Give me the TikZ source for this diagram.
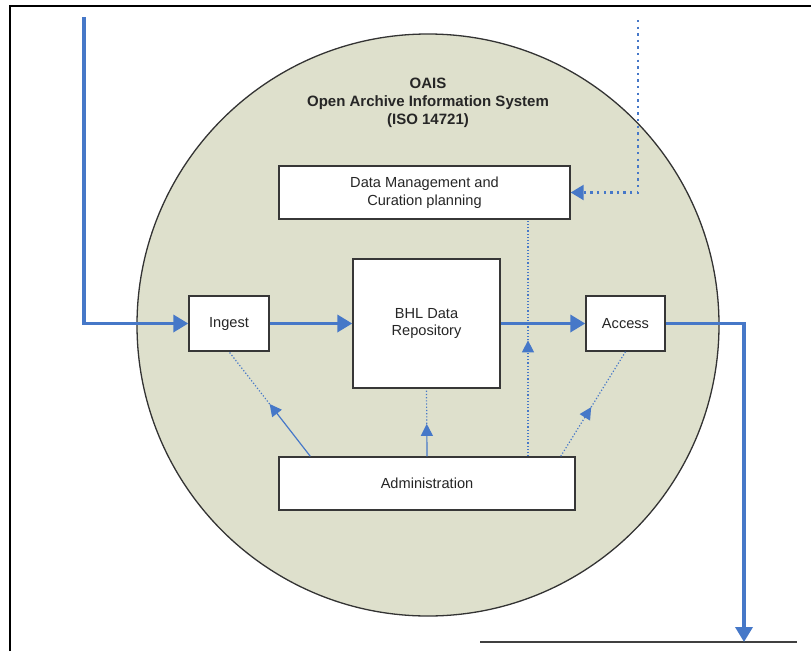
\documentclass[tikz,border=0pt]{standalone}
\usepackage{fontspec}
\setmainfont{Liberation Sans}
\usepackage{xcolor}
\usetikzlibrary{arrows.meta}
\usetikzlibrary{calc}

\definecolor{oaisfill}{RGB}{222,224,204}
\definecolor{flowblue}{RGB}{70,120,200}
\definecolor{boxline}{RGB}{55,55,55}

\begin{document}
\begin{tikzpicture}[x=1pt,y=-1pt,
        box/.style={draw=boxline, line width=1.4pt, fill=white, align=center,
            font=\fontsize{14.6}{17.5}\selectfont, text=black!85},
        flow/.style={flowblue, line width=3.5pt,
            -{Triangle[length=15pt,width=17pt]}},
        ctrl/.style={flowblue, line width=1.2pt},
        ctrltip/.style={-{Triangle[length=12pt,width=12pt]}},
        feed/.style={flowblue, line width=2.4pt, dash pattern=on 2.4pt off 4.2pt,
            -{Triangle[length=13pt,width=15pt]}}]
        \useasboundingbox (0,0) rectangle (811,651);
        % frame
        \draw[line width=2.5pt] (10,651) -- (10,6) -- (811,6);
        \draw[line width=1.6pt, black!75] (480,642) -- (797,642);
        % the archive
        \draw[fill=oaisfill, draw=black!80, line width=1.3pt] (428,325) circle (291);
        \node[align=center, font=\bfseries\fontsize{15}{18}\selectfont, text=black!85]
            (title) at (428,103) {OAIS\\Open Archive Information System\\(ISO 14721)};
        % functions
        \node[box, minimum width=291pt, minimum height=53pt] (plan) at (424.5,192.5)
            {Data Management and\\Curation planning};
        \node[box, minimum width=80pt, minimum height=55pt] (ingest) at (229,323.5) {Ingest};
        \node[box, minimum width=147pt, minimum height=129pt] (bhl) at (426.5,323.5)
            {BHL Data\\Repository};
        \node[box, minimum width=79pt, minimum height=55pt] (access) at (625.5,323.5) {Access};
        \node[box, minimum width=296pt, minimum height=53pt] (admin) at (427,483.5) {Administration};
        \coordinate (inTop) at (84,17);
        \coordinate (outEnd) at (744,642);
        \coordinate (planTop) at (638,20);
        % main flow
        \draw[flow] (inTop) |- (ingest.west);
        \draw[flow] (ingest.east) -- (bhl.west);
        \draw[flow] (bhl.east) -- (access.west);
        \draw[flow] (access.east) -| (outEnd);
        \draw[feed] (planTop) |- (plan.east);
        % administration
        \coordinate (a1) at ([xshift=32pt]admin.north west);
        \coordinate (a2) at (admin.north);
        \coordinate (a3) at ([xshift=101pt]admin.north);
        \coordinate (a4) at ([xshift=-15pt]admin.north east);
        \coordinate (m1) at ($(a1)!0.5!(ingest.south)$);
        \coordinate (m2) at ($(a2)!0.48!(bhl.south)$);
        \coordinate (m3) at ($(a3)!0.49!(plan.south -| a3)$);
        \coordinate (m4) at ($(a4)!0.47!(access.south)$);
        \draw[ctrl, ctrltip] (a1) -- (m1);
        \draw[ctrl, dotted] (m1) -- (ingest.south);
        \draw[ctrl, ctrltip] (a2) -- (m2);
        \draw[ctrl, dotted] (m2) -- (bhl.south);
        \draw[ctrl, dotted, ctrltip] (a3) -- (m3);
        \draw[ctrl, dotted] (m3) -- (plan.south -| a3);
        \draw[ctrl, dotted, ctrltip] (a4) -- (m4);
        \draw[ctrl, dotted] (m4) -- (access.south);
    \end{tikzpicture}
\end{document}
